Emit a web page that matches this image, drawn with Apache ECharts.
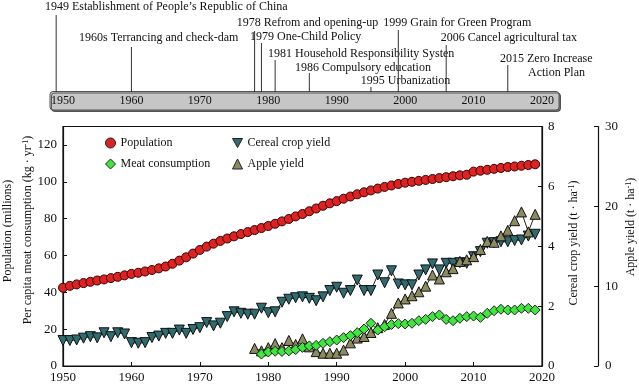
<!DOCTYPE html>
<html><head><meta charset="utf-8">
<script src="https://cdn.jsdelivr.net/npm/echarts@6/dist/echarts.min.js"></script>
<style>html,body{margin:0;padding:0;background:#fff}#c{width:639px;height:387px}</style>
</head><body><div id="c"></div>
<script>
// ---------------- DATA ----------------
const popStartYear = 1950;
const population = [42.5,43.5,44.3,45.0,45.7,46.4,47.0,47.7,48.4,49.2,
  50.0,50.6,51.3,52.1,53.0,54.0,55.5,57.2,59.0,61.0,
  63.0,64.8,66.4,67.9,69.2,70.4,71.6,72.7,73.8,74.9,
  76.0,77.2,78.5,79.8,81.2,82.5,84.0,85.5,87.0,88.3,
  89.5,90.8,92.0,93.2,94.3,95.3,96.3,97.2,98.0,98.8,
  99.5,100.0,100.5,101.0,101.5,102.0,102.5,103.0,103.5,103.8,
  105.5,106.0,106.5,107.0,107.5,108.0,108.3,108.7,109.1,109.5];
const cerealStartYear = 1950;
const cerealYield = [0.85,0.85,0.87,0.93,0.98,0.94,1.11,0.98,1.11,1.07,
  0.78,0.76,0.78,0.95,1.00,1.09,1.09,1.20,1.09,1.22,
  1.28,1.45,1.34,1.43,1.65,1.81,1.76,1.73,1.73,1.93,
  1.78,1.81,2.13,2.23,2.28,2.31,2.26,2.18,2.31,2.52,
  2.63,2.43,2.52,2.87,2.52,2.52,3.04,2.78,3.18,2.74,
  2.71,2.71,3.04,3.21,3.41,3.21,3.43,3.43,3.45,3.43,
  3.65,3.82,4.10,4.12,4.15,4.15,4.19,4.21,4.34,4.40];
const meatStartYear = 1979;
const meatConsumption = [6.5,7.6,8.0,7.9,8.2,8.9,10.1,10.9,11.2,12.3,
  13.2,14.1,15.4,16.5,18.1,20.1,23.2,19.5,21.3,22.5,
  23.0,22.8,23.2,24.6,25.3,26.8,27.7,25.3,24.6,25.9,
  26.8,27.1,26.4,28.6,30.0,30.8,30.4,30.4,31.3,31.3,30.4];
const appleStartYear = 1978;
const appleYield = [2.2,1.9,2.3,2.8,2.3,3.2,2.7,3.4,2.4,1.8,
  1.6,1.6,1.6,2.0,2.9,3.5,3.7,4.2,4.8,5.2,
  6.6,7.9,8.4,8.8,9.3,10.0,11.4,10.9,11.8,12.2,
  13.1,13.3,13.7,14.6,15.6,15.5,16.3,17.0,18.2,19.3,16.8,19.0];
const seriesNames = ['Population','Cereal crop yield','Meat consumption','Apple yield'];
const yearTicks = [1950,1960,1970,1980,1990,2000,2010,2020];
const eventYears = [1949,1960,1978,1979,1981,1986,1995,1999,2006,2015];
const eventLabels = [
  '1949 Establishment of People\u2019s Republic of China',
  '1960s Terrancing and check-dam',
  '1978 Refrom and opening-up',
  '1979 One-Child Policy',
  '1981 Household Responsibility Systen',
  '1986 Compulsory education',
  '1995 Urbanization',
  '1999 Grain for Green Program',
  '2006 Cancel agricultural tax',
  '2015 Zero Increase\nAction Plan'];

// ---------------- LAYOUT / STYLE ----------------
const FONT = '"Liberation Serif","Times New Roman",serif';
const TXT = '#111';
// timeline: top of each event stem (px from top), and text [dx from stem, y] per text line
const eventStemTop = [15,47,31,43,60,73,87,30,45,65];
const eventTextPos = [[[-11.2,7]],[[-52.4,38]],[[-17.9,22.5]],[[-11.4,36.5]],[[-7.1,53.5]],
  [[-14.4,68]],[[-10.2,81]],[[-15,22.5]],[[-5.5,38]],[[-7.8,59],[20.2,72.5]]];

function pairs(start, arr){ return arr.map((v,i)=>[start+i, v]); }

const chart = echarts.init(document.getElementById('c'), null, {renderer:'canvas'});
const legendBase = {orient:'horizontal', padding:0, itemWidth:10, itemHeight:10, itemGap:5,
  selectedMode:false, textStyle:{fontFamily:FONT, fontSize:12, color:TXT},
  itemStyle:{borderColor:'#222', borderWidth:1}};

chart.setOption({
  animation:false,
  backgroundColor:'#fff',
  grid:[
    {left:63, right:97, top:126.5, bottom:21, show:true, borderColor:'#111', borderWidth:1.2, backgroundColor:'transparent'},
    {left:63, right:97, top:0, height:92}
  ],
  legend:[
    Object.assign({}, legendBase, {data:[{name:seriesNames[0], icon:'circle'}], left:105, top:137}),
    Object.assign({}, legendBase, {data:[{name:seriesNames[1], icon:'path://M0,0 L10,0 L5,9 Z'}], left:232, top:137}),
    Object.assign({}, legendBase, {data:[{name:seriesNames[2], icon:'diamond'}], left:105, top:158}),
    Object.assign({}, legendBase, {data:[{name:seriesNames[3], icon:'triangle'}], left:232, top:158})
  ],
  xAxis:[
    {type:'value', gridIndex:0, min:1950, max:2020, interval:10,
     axisLine:{lineStyle:{color:'#111', width:1.2}},
     axisTick:{inside:true, length:4, lineStyle:{color:'#111'}},
     axisLabel:{fontFamily:FONT, fontSize:13, color:TXT, margin:5, formatter:v=>String(v)},
     splitLine:{show:false}},
    {type:'value', gridIndex:1, min:1950, max:2020, interval:10, position:'bottom',
     axisLine:{show:false}, axisTick:{show:false}, splitLine:{show:false},
     axisLabel:{fontFamily:FONT, fontSize:12, color:TXT, margin:3, formatter:v=>String(v)}}
  ],
  yAxis:[
    {type:'value', gridIndex:0, min:0, max:130, interval:20, position:'left',
     axisLine:{show:true, lineStyle:{color:'#111', width:1.2}},
     axisTick:{show:true, inside:true, length:4, lineStyle:{color:'#111'}},
     axisLabel:{fontFamily:FONT, fontSize:13, color:TXT, margin:6, formatter:v=>v>120?'':String(v)},
     splitLine:{show:false}},
    {type:'value', gridIndex:0, min:0, max:8, interval:2, position:'right',
     axisLine:{show:true, lineStyle:{color:'#111', width:1.2}},
     axisTick:{show:true, inside:true, length:4, lineStyle:{color:'#111'}},
     axisLabel:{fontFamily:FONT, fontSize:13, color:TXT, margin:6},
     splitLine:{show:false}},
    {type:'value', gridIndex:0, min:0, max:30, interval:10, position:'right', offset:56,
     axisLine:{show:true, lineStyle:{color:'#111', width:1.2}},
     axisTick:{show:true, inside:true, length:4, lineStyle:{color:'#111'}},
     axisLabel:{fontFamily:FONT, fontSize:13, color:TXT, margin:7},
     splitLine:{show:false}},
    {type:'value', gridIndex:1, min:0, max:92, inverse:true, show:false}
  ],
  graphic:[
    {type:'rect', z:-1, shape:{x:50, y:91.5, width:509, height:18.5, r:3},
     style:{fill:'#c6c6c6', stroke:'#555', lineWidth:1, shadowColor:'rgba(0,0,0,0.55)', shadowOffsetX:1.5, shadowOffsetY:1.5, shadowBlur:0}},
    {type:'text', x:8, y:231, rotation:Math.PI/2,
     style:{text:'Population (millions)', fontFamily:FONT, fontSize:12, fill:TXT, textAlign:'center', textVerticalAlign:'middle'}},
    {type:'text', x:28, y:230, rotation:Math.PI/2,
     style:{text:'Per capita meat consumption (kg \u00b7 yr{s|-1})', fontFamily:FONT, fontSize:12, fill:TXT, textAlign:'center', textVerticalAlign:'middle',
       rich:{s:{fontFamily:FONT, fontSize:8, fill:TXT, verticalAlign:'top', lineHeight:8}}}},
    {type:'text', x:574, y:243, rotation:Math.PI/2,
     style:{text:'Cereal crop yield (t \u00b7 ha{s|-1})', fontFamily:FONT, fontSize:12, fill:TXT, textAlign:'center', textVerticalAlign:'middle',
       rich:{s:{fontFamily:FONT, fontSize:8, fill:TXT, verticalAlign:'top', lineHeight:8}}}},
    {type:'text', x:631, y:227, rotation:Math.PI/2,
     style:{text:'Apple yield (t \u00b7 ha{s|-1})', fontFamily:FONT, fontSize:12, fill:TXT, textAlign:'center', textVerticalAlign:'middle',
       rich:{s:{fontFamily:FONT, fontSize:8, fill:TXT, verticalAlign:'top', lineHeight:8}}}}
  ],
  series:[
    {name:seriesNames[1], type:'line', xAxisIndex:0, yAxisIndex:1, data:pairs(cerealStartYear, cerealYield),
     symbol:'triangle', symbolRotate:180, symbolSize:10, showAllSymbol:true,
     itemStyle:{color:'#2f6b6f', borderColor:'#111', borderWidth:1},
     lineStyle:{color:'#222', width:1}, z:2},
    {name:seriesNames[3], type:'line', xAxisIndex:0, yAxisIndex:2, data:pairs(appleStartYear, appleYield),
     symbol:'triangle', symbolSize:10, showAllSymbol:true,
     itemStyle:{color:'#8c8a60', borderColor:'#111', borderWidth:1},
     lineStyle:{color:'#222', width:1}, z:3},
    {name:seriesNames[2], type:'line', xAxisIndex:0, yAxisIndex:0, data:pairs(meatStartYear, meatConsumption),
     symbol:'diamond', symbolSize:10, showAllSymbol:true,
     itemStyle:{color:'#3ee63e', borderColor:'#222', borderWidth:1},
     lineStyle:{color:'#222', width:1}, z:4},
    {name:seriesNames[0], type:'scatter', xAxisIndex:0, yAxisIndex:0, data:pairs(popStartYear, population),
     symbol:'circle', symbolSize:9,
     itemStyle:{color:'#dd2222', borderColor:'#3a0000', borderWidth:1, opacity:1}, z:5},
    {type:'custom', xAxisIndex:1, yAxisIndex:3, clip:false, silent:true,
     data:eventYears.map((y,i)=>[y,i]),
     renderItem:function(params, api){
       const i = params.dataIndex;
       const yr = api.value(0);
       const bot = api.coord([yr, 92]);
       const top = api.coord([yr, eventStemTop[i]]);
       const children = [{type:'line', shape:{x1:bot[0], y1:bot[1], x2:top[0], y2:top[1]},
         style:{stroke:'#333', lineWidth:1}}];
       eventLabels[i].split('\n').forEach((t,k)=>{
         const p = eventTextPos[i][k];
         children.push({type:'text', x:bot[0]+p[0], y:api.coord([yr, p[1]])[1],
           style:{text:t, fontFamily:FONT, fontSize:12, fill:TXT, textAlign:'left', textVerticalAlign:'middle'}});
       });
       return {type:'group', children:children};
     }}
  ]
});
</script></body></html>
